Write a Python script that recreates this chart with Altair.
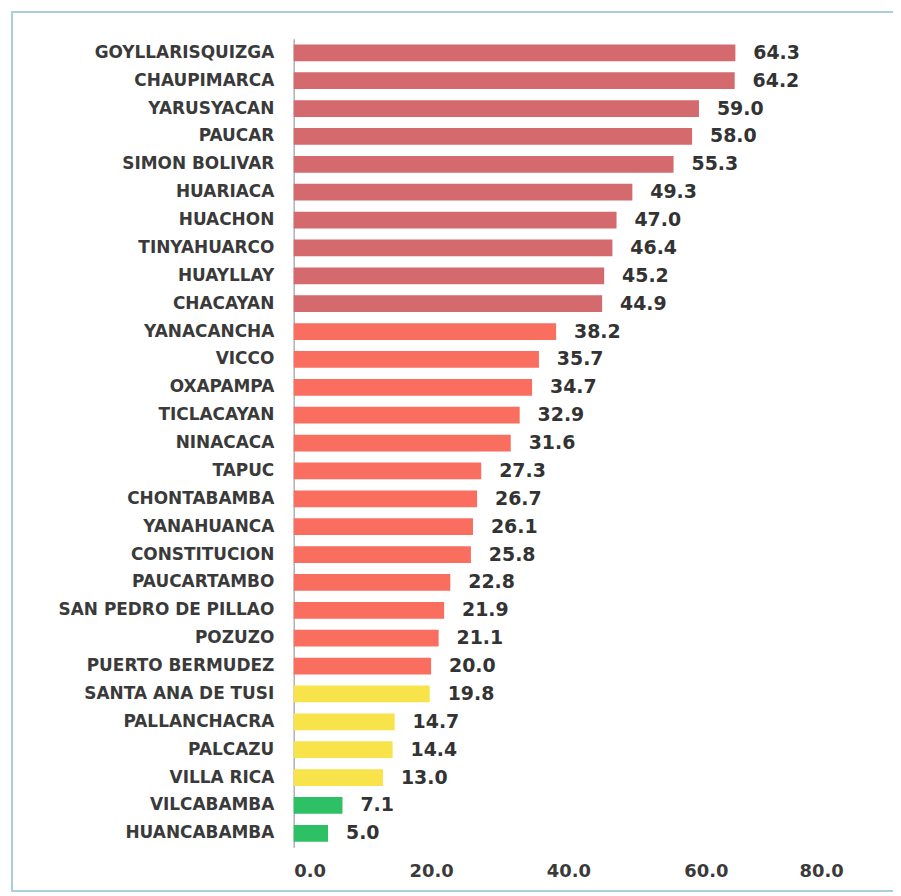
import altair as alt
import pandas as pd

districts = ["GOYLLARISQUIZGA", "CHAUPIMARCA", "YARUSYACAN", "PAUCAR", "SIMON BOLIVAR",
             "HUARIACA", "HUACHON", "TINYAHUARCO", "HUAYLLAY", "CHACAYAN",
             "YANACANCHA", "VICCO", "OXAPAMPA", "TICLACAYAN", "NINACACA",
             "TAPUC", "CHONTABAMBA", "YANAHUANCA", "CONSTITUCION", "PAUCARTAMBO",
             "SAN PEDRO DE PILLAO", "POZUZO", "PUERTO BERMUDEZ", "SANTA ANA DE TUSI",
             "PALLANCHACRA", "PALCAZU", "VILLA RICA", "VILCABAMBA", "HUANCABAMBA"]
values = [64.3, 64.2, 59.0, 58.0, 55.3, 49.3, 47.0, 46.4, 45.2, 44.9,
          38.2, 35.7, 34.7, 32.9, 31.6, 27.3, 26.7, 26.1, 25.8, 22.8,
          21.9, 21.1, 20.0, 19.8, 14.7, 14.4, 13.0, 7.1, 5.0]
groups = (["muy alto"] * 10 + ["alto"] * 13 + ["medio"] * 4 + ["bajo"] * 2)
group_names = ["muy alto", "alto", "medio", "bajo"]
group_colors = ["#d46a6e", "#fa6e5f", "#f8e44a", "#2dc064"]
x_ticks = [0, 20, 40, 60, 80]

df = pd.DataFrame({"distrito": districts, "valor": values, "grupo": groups})

W, H = 552, 812

y_enc = alt.Y("distrito:N", sort=districts, title=None,
              scale=alt.Scale(paddingInner=0.4, paddingOuter=0.2),
              axis=alt.Axis(labelFont="DejaVu Sans", labelFontWeight="bold",
                            labelFontSize=17, labelColor="#3a3a3a", labelPadding=20,
                            labelLimit=400,
                            ticks=False, domainColor="#b0b0b0", domainWidth=1.5))
x_enc = alt.X("valor:Q", title=None,
              scale=alt.Scale(domain=[0, 80], nice=False),
              axis=alt.Axis(values=x_ticks, format=".1f", grid=False, domain=False,
                            ticks=False, labelFont="DejaVu Sans", labelFontWeight="bold",
                            labelFontSize=18, labelColor="#3a3a3a", labelPadding=15))

bars = alt.Chart(df).mark_bar().encode(
    y=y_enc, x=x_enc,
    color=alt.Color("grupo:N", scale=alt.Scale(domain=group_names, range=group_colors),
                    legend=None),
)

labels = alt.Chart(df).mark_text(align="left", baseline="middle", dx=18,
                                 font="DejaVu Sans", fontWeight="bold", fontSize=19,
                                 color="#333333").encode(
    y=alt.Y("distrito:N", sort=districts),
    x="valor:Q",
    text=alt.Text("valor:Q", format=".1f"),
)

frame = alt.Chart(pd.DataFrame({"a": [0]})).mark_rect(
    fill=None, stroke="#a9cfdc", strokeWidth=2
).encode(x=alt.value(-283), x2=alt.value(603), y=alt.value(-27), y2=alt.value(856))

chart = alt.layer(frame, bars, labels).properties(
    width=W, height=H,
    background="white",
    autosize=alt.AutoSizeParams(type="none"),
    padding={"left": 287, "top": 29, "right": 50, "bottom": 47},
).configure_view(stroke=None, strokeWidth=0)

chart.save("out.html", embed_options={"renderer": "svg", "actions": False})
